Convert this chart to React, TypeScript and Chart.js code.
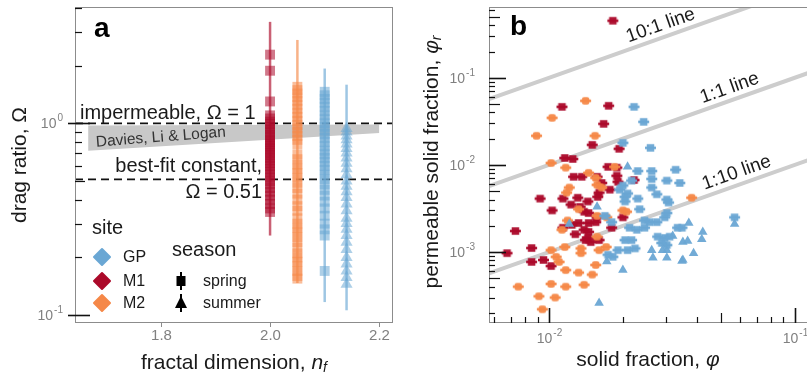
import React, { useEffect, useRef } from 'react';
import { Chart, registerables } from 'chart.js';

Chart.register(...registerables);

// ---------------- Panel a: drag ratio vs fractal dimension ----------------
const sites = ['GP', 'M1', 'M2'];
const seasons = ['spring', 'summer'];
// columns: M1 spring, M2 spring, GP spring, GP summer
const columnNf = [2.0, 2.05, 2.1, 2.14];
const omegaM1Spring = [2.28, 1.88, 1.3, 1.1, 1.06, 1.02, 0.99, 0.96, 0.93, 0.9, 0.87, 0.85, 0.82, 0.8, 0.78, 0.76, 0.74, 0.72, 0.7, 0.68, 0.66, 0.64, 0.62, 0.6, 0.58, 0.56, 0.54, 0.52, 0.5, 0.48, 0.46, 0.44, 0.42, 0.4, 0.38, 0.36, 0.345];
const omegaM2Spring = [1.55, 1.49, 1.43, 1.37, 1.31, 1.25, 1.19, 1.13, 1.08, 1.03, 0.98, 0.94, 0.9, 0.86, 0.82, 0.78, 0.69, 0.65, 0.61, 0.58, 0.55, 0.52, 0.49, 0.46, 0.43, 0.4, 0.37, 0.35, 0.32, 0.3, 0.285, 0.27, 0.255, 0.24, 0.225, 0.21, 0.2, 0.19, 0.18, 0.17, 0.16, 0.155];
const omegaGPSpring = [1.46, 1.4, 1.34, 1.28, 1.22, 1.16, 1.1, 1.05, 1.0, 0.96, 0.92, 0.88, 0.84, 0.8, 0.76, 0.72, 0.69, 0.66, 0.63, 0.6, 0.57, 0.54, 0.51, 0.48, 0.45, 0.42, 0.39, 0.36, 0.33, 0.3, 0.28, 0.26, 0.17];
const omegaGPSummer = [0.94, 0.9, 0.86, 0.82, 0.78, 0.74, 0.7, 0.66, 0.62, 0.58, 0.54, 0.5, 0.47, 0.44, 0.41, 0.38, 0.35, 0.32, 0.3, 0.28, 0.26, 0.24, 0.22, 0.2, 0.185, 0.17, 0.157, 0.145];
const omegaLow = [0.26, 0.147, 0.117, 0.106];
const omegaHigh = [3.38, 2.72, 1.93, 1.59];
const impermeableOmega = 1;
const bestFitOmega = 0.51;
const dllNf = [1.667, 2.2];
const dllUpper = [0.975, 0.985];
const dllLower = [0.72, 0.89];
const nfTicks = [1.8, 2.0, 2.2];
const nfRange = [1.643, 2.225];
const omegaRange = [0.091, 4.04];

// ---------------- Panel b: permeable solid fraction vs solid fraction ----------------
const phiM1 = [0.0182, 0.0113, 0.0175, 0.0167, 0.015, 0.0193, 0.0116, 0.0125, 0.0126, 0.0136, 0.0092, 0.0103, 0.0114, 0.0123, 0.0144, 0.0139, 0.0145, 0.0132, 0.0145, 0.0155, 0.0139, 0.0145, 0.0124, 0.0073, 0.00675, 0.0085, 0.0085, 0.0095, 0.0102, 0.0141, 0.0148, 0.016, 0.016, 0.0164, 0.0174, 0.0189, 0.0189, 0.0191, 0.0222, 0.0157, 0.0177, 0.0158, 0.0131, 0.0134, 0.0157, 0.0114, 0.0128, 0.018, 0.02, 0.0144];
const phiRM1 = [0.452, 0.0464, 0.0477, 0.0296, 0.017, 0.0153, 0.012, 0.0117, 0.0073, 0.0073, 0.0041, 0.003, 0.0041, 0.0035, 0.0038, 0.0029, 0.0028, 0.00215, 0.00215, 0.0022, 0.0018, 0.0017, 0.00205, 0.00174, 0.00097, 0.00111, 0.00077, 0.00081, 0.00069, 0.00137, 0.0013, 0.00137, 0.0048, 0.0062, 0.0095, 0.0093, 0.0075, 0.0064, 0.0067, 0.0073, 0.0052, 0.0043, 0.0042, 0.0033, 0.0025, 0.0019, 0.0016, 0.0019, 0.0025, 0.00145];
const phiM2 = [0.0141, 0.0103, 0.0089, 0.0154, 0.0102, 0.0117, 0.0145, 0.0155, 0.0121, 0.0118, 0.0157, 0.0164, 0.0185, 0.0381, 0.0113, 0.0135, 0.0135, 0.016, 0.0102, 0.0107, 0.011, 0.0117, 0.0132, 0.015, 0.0075, 0.0102, 0.0117, 0.0139, 0.0091, 0.0106, 0.0094, 0.0155, 0.0171, 0.0132, 0.0157, 0.0172, 0.02, 0.0119, 0.0157, 0.0116, 0.0207];
const phiRM2 = [0.0544, 0.0347, 0.0216, 0.0216, 0.0105, 0.0093, 0.0081, 0.0071, 0.0055, 0.0048, 0.0059, 0.0055, 0.0095, 0.0042, 0.0018, 0.0011, 0.00097, 0.00105, 0.00105, 0.00088, 0.00077, 0.00062, 0.00058, 0.00055, 0.0004, 0.00043, 0.0004, 0.00042, 0.00031, 0.0003, 0.00022, 0.00071, 0.00114, 0.0031, 0.0026, 0.0025, 0.003, 0.0023, 0.0015, 0.00114, 0.0029];
const phiGPSpring = [0.0222, 0.0243, 0.02, 0.0259, 0.023, 0.0262, 0.0328, 0.0262, 0.0302, 0.0341, 0.0262, 0.0275, 0.0302, 0.023, 0.057, 0.0194, 0.0204, 0.0307, 0.0204, 0.0245, 0.0257, 0.0275, 0.0296, 0.0302, 0.0334, 0.0348, 0.0213, 0.0228, 0.0245, 0.0204, 0.0217, 0.0277, 0.0296, 0.031, 0.0209, 0.0224, 0.0191, 0.0174, 0.0182, 0.0288, 0.0302, 0.02, 0.0209, 0.0217, 0.0234, 0.0169, 0.018];
const phiRGPSpring = [0.0464, 0.0312, 0.0179, 0.0157, 0.0085, 0.0085, 0.0088, 0.0069, 0.0066, 0.0062, 0.0055, 0.0046, 0.004, 0.0041, 0.0025, 0.0052, 0.0043, 0.0037, 0.0038, 0.0023, 0.0022, 0.0022, 0.0025, 0.0028, 0.0019, 0.0019, 0.0019, 0.0018, 0.0019, 0.00137, 0.00137, 0.0015, 0.00145, 0.0015, 0.00105, 0.0011, 0.00105, 0.00093, 0.00088, 0.00127, 0.0012, 0.0058, 0.0047, 0.0066, 0.0031, 0.0026, 0.0022];
const phiGPSummer = [0.0209, 0.016, 0.0172, 0.02, 0.0423, 0.0419, 0.0388, 0.0351, 0.0262, 0.0302, 0.0319, 0.0371, 0.0351, 0.0367, 0.0265, 0.0302, 0.0348, 0.029, 0.057, 0.0157, 0.0121];
const phiRGPSummer = [0.0095, 0.00026, 0.00078, 0.00062, 0.0017, 0.0014, 0.00097, 0.00081, 0.00105, 0.00105, 0.00153, 0.00215, 0.0013, 0.00134, 0.00086, 0.00086, 0.00079, 0.00105, 0.0021, 0.0033, 0.0021];
const refRatios = [10, 1, 0.1];
const refLabels = ['10:1 line', '1:1 line', '1:10 line'];
const refLabelPhi = [0.0296, 0.0565, 0.0603];
const phiRange = [0.0057, 0.1324];
const phiRRange = [0.000153, 0.65];

// ---------------- styles ----------------
const COL: Record<string, string> = { GP: '106,167,212', M1: '172,10,42', M2: '245,136,72' };
const rgba = (c: string, a: number) => `rgba(${c},${a})`;
const FF = '"Liberation Sans", Arial, Helvetica, sans-serif';
const fnt = (size: number, italic = false, bold = false) =>
  `${italic ? 'italic ' : ''}${bold ? 'bold ' : ''}${size}px ${FF}`;
const TXT = '#1a1a1a';
const TICKTXT = '#808080';

const xy = (xs: number[], ys: number[]) => xs.map((x, i) => ({ x, y: ys[i] }));

function richText(ctx: any, parts: any[], cx: number, cy: number) {
  let total = 0;
  const widths = parts.map((p) => {
    ctx.font = fnt(p.size, !!p.italic);
    const w = ctx.measureText(p.t).width;
    total += w;
    return w;
  });
  let x = cx - total / 2;
  ctx.textAlign = 'left';
  ctx.textBaseline = 'middle';
  parts.forEach((p, i) => {
    ctx.font = fnt(p.size, !!p.italic);
    ctx.fillText(p.t, x, cy + (p.dy || 0));
    x += widths[i];
  });
}

function drawPow(ctx: any, x: number, y: number, exp: string, align: string) {
  ctx.save();
  ctx.fillStyle = TICKTXT;
  ctx.textBaseline = 'middle';
  ctx.textAlign = 'left';
  ctx.font = fnt(14);
  const wb = ctx.measureText('10').width;
  ctx.font = fnt(10);
  const we = ctx.measureText(exp).width;
  const total = wb + we + 1;
  const x0 = align === 'right' ? x - total : x - total / 2;
  ctx.font = fnt(14);
  ctx.fillText('10', x0, y + 1);
  ctx.font = fnt(10);
  ctx.fillText(exp, x0 + wb + 1, y - 5);
  ctx.restore();
}

function logTicks(min: number, max: number) {
  const out: { v: number; m: number; e: number }[] = [];
  for (let e = Math.floor(Math.log10(min)); e <= Math.ceil(Math.log10(max)); e++) {
    for (let m = 1; m <= 9; m++) {
      const v = m * Math.pow(10, e);
      if (v >= min * 0.999 && v <= max * 1.001) out.push({ v, m, e });
    }
  }
  return out;
}

function line(ctx: any, x1: number, y1: number, x2: number, y2: number) {
  ctx.beginPath();
  ctx.moveTo(x1, y1);
  ctx.lineTo(x2, y2);
  ctx.stroke();
}

function makeSquareMarker(color: string, side: number, nub: number, rounded: boolean) {
  const c = document.createElement('canvas');
  c.width = Math.ceil(Math.max(side, nub)) + 2;
  c.height = Math.ceil(side) + 2;
  const g = c.getContext('2d') as CanvasRenderingContext2D;
  const cx = c.width / 2;
  const cy = c.height / 2;
  g.fillStyle = color;
  if (rounded) {
    const r = side * 0.3;
    const x0 = cx - side / 2, y0 = cy - side / 2;
    g.beginPath();
    g.moveTo(x0 + r, y0);
    g.lineTo(x0 + side - r, y0);
    g.quadraticCurveTo(x0 + side, y0, x0 + side, y0 + r);
    g.lineTo(x0 + side, y0 + side - r);
    g.quadraticCurveTo(x0 + side, y0 + side, x0 + side - r, y0 + side);
    g.lineTo(x0 + r, y0 + side);
    g.quadraticCurveTo(x0, y0 + side, x0, y0 + side - r);
    g.lineTo(x0, y0 + r);
    g.quadraticCurveTo(x0, y0, x0 + r, y0);
    g.fill();
  } else {
    g.fillRect(cx - side / 2, cy - side / 2, side, side);
  }
  g.fillRect(cx - nub / 2, cy - 1.3, nub, 2.6);
  return c;
}

// ---------------- plugins ----------------
const panelAPlugin = {
  id: 'panelA',
  afterDatasetsDraw(chart: any) {
    const { ctx, chartArea: ca, scales } = chart;
    const xs = scales.x;
    const ys = scales.y;
    ctx.save();
    // frame
    ctx.strokeStyle = '#8c8c8c';
    ctx.lineWidth = 1;
    ctx.strokeRect(ca.left + 0.5, ca.top + 0.5, ca.right - ca.left - 1, ca.bottom - ca.top - 1);

    // log ticks (inside) on y
    ctx.strokeStyle = '#111';
    logTicks(omegaRange[0], omegaRange[1]).forEach((t) => {
      const y = Math.round(ys.getPixelForValue(t.v)) + 0.5;
      if (t.m === 1) {
        ctx.lineWidth = 1.6;
        line(ctx, ca.left - 7, y, ca.left + 15, y);
        drawPow(ctx, ca.left - 12, y, String(t.e), 'right');
      } else {
        ctx.lineWidth = 1.2;
        line(ctx, ca.left, y, ca.left + (t.m === 5 ? 10 : 7), y);
      }
    });
    // x ticks
    ctx.strokeStyle = '#8c8c8c';
    ctx.lineWidth = 1;
    ctx.fillStyle = TICKTXT;
    ctx.font = fnt(15);
    ctx.textAlign = 'center';
    ctx.textBaseline = 'middle';
    nfTicks.forEach((v) => {
      const x = Math.round(xs.getPixelForValue(v)) + 0.5;
      line(ctx, x, ca.bottom, x, ca.bottom + 4);
      ctx.fillText(v.toFixed(1), x, ca.bottom + 13);
    });

    // titles
    ctx.fillStyle = TXT;
    richText(ctx, [
      { t: 'fractal dimension, ', size: 21 },
      { t: 'n', size: 21, italic: true },
      { t: 'f', size: 14, italic: true, dy: 5 },
    ], (ca.left + ca.right) / 2, 363);
    ctx.save();
    ctx.translate(20, 165);
    ctx.rotate(-Math.PI / 2);
    richText(ctx, [{ t: 'drag ratio, Ω', size: 21 }], 0, 0);
    ctx.restore();

    // annotations
    ctx.fillStyle = TXT;
    ctx.font = fnt(20);
    ctx.textBaseline = 'alphabetic';
    ctx.textAlign = 'left';
    ctx.fillText(`impermeable, Ω = ${impermeableOmega}`, ca.left + 5, ys.getPixelForValue(impermeableOmega) - 4);
    const bfY = ys.getPixelForValue(bestFitOmega);
    const rx = xs.getPixelForValue(columnNf[0]) - 8;
    ctx.textAlign = 'right';
    ctx.fillText('best-fit constant,', rx, bfY - 7);
    ctx.fillText(`Ω = ${bestFitOmega}`, rx, bfY + 19);

    ctx.save();
    ctx.translate(xs.getPixelForValue(1.8), ys.getPixelForValue(0.845));
    ctx.rotate((-4.5 * Math.PI) / 180);
    ctx.fillStyle = '#333';
    ctx.font = fnt(15.5);
    ctx.textAlign = 'center';
    ctx.textBaseline = 'middle';
    ctx.fillText('Davies, Li & Logan', 0, 0);
    ctx.restore();

    // panel letter
    ctx.fillStyle = '#000';
    ctx.font = fnt(28, false, true);
    ctx.textAlign = 'left';
    ctx.textBaseline = 'alphabetic';
    ctx.fillText('a', 94, 37);

    // legend
    ctx.fillStyle = TXT;
    ctx.font = fnt(20);
    ctx.textBaseline = 'middle';
    ctx.fillText('site', 92, 228);
    ctx.fillText('season', 172, 250);
    const rows = [257, 281, 303];
    sites.forEach((s, i) => {
      const y = rows[i];
      ctx.fillStyle = rgba(COL[s], 1);
      ctx.strokeStyle = rgba(COL[s], 1);
      ctx.lineJoin = 'round';
      ctx.lineWidth = 2;
      ctx.beginPath();
      ctx.moveTo(102, y - 8);
      ctx.lineTo(110, y);
      ctx.lineTo(102, y + 8);
      ctx.lineTo(94, y);
      ctx.closePath();
      ctx.fill();
      ctx.stroke();
      ctx.fillStyle = TXT;
      ctx.font = fnt(16);
      ctx.fillText(s, 123, y + 1);
    });
    ctx.fillStyle = '#000';
    ctx.strokeStyle = '#000';
    ctx.lineWidth = 2;
    // spring key
    line(ctx, 181, rows[1] - 9, 181, rows[1] + 9);
    ctx.fillRect(176.5, rows[1] - 5, 9, 10);
    // summer key
    line(ctx, 181, rows[2] - 9, 181, rows[2] + 9);
    ctx.beginPath();
    ctx.moveTo(181, rows[2] - 7);
    ctx.lineTo(187, rows[2] + 5);
    ctx.lineTo(175, rows[2] + 5);
    ctx.closePath();
    ctx.fill();
    ctx.fillStyle = TXT;
    ctx.font = fnt(16);
    ctx.fillText(seasons[0], 203, rows[1] + 1);
    ctx.fillText(seasons[1], 203, rows[2] + 1);
    ctx.restore();
  },
};

const panelBPlugin = {
  id: 'panelB',
  afterDatasetsDraw(chart: any) {
    const { ctx, chartArea: ca, scales } = chart;
    const xs = scales.x;
    const ys = scales.y;
    ctx.save();
    ctx.strokeStyle = '#8c8c8c';
    ctx.lineWidth = 1;
    ctx.strokeRect(ca.left + 0.5, ca.top + 0.5, ca.right - ca.left + 10, ca.bottom - ca.top - 1);

    ctx.strokeStyle = '#111';
    logTicks(phiRRange[0], phiRRange[1]).forEach((t) => {
      const y = Math.round(ys.getPixelForValue(t.v)) + 0.5;
      ctx.lineWidth = t.m === 1 ? 1.6 : 1.2;
      const len = t.m === 1 ? 17 : t.m === 5 ? 11 : 6;
      line(ctx, ca.left, y, ca.left + len, y);
      if (t.m === 1) drawPow(ctx, ca.left - 14, y, String(t.e), 'right');
    });
    logTicks(phiRange[0], phiRange[1]).forEach((t) => {
      const x = Math.round(xs.getPixelForValue(t.v)) + 0.5;
      ctx.lineWidth = t.m === 1 ? 1.6 : 1.2;
      const len = t.m === 1 ? 15 : t.m === 5 ? 10 : 6;
      line(ctx, x, ca.bottom, x, ca.bottom - len);
      if (t.m === 1) drawPow(ctx, x, ca.bottom + 15, String(t.e), 'center');
    });

    // reference line labels
    ctx.fillStyle = TXT;
    ctx.font = fnt(19);
    ctx.textAlign = 'center';
    ctx.textBaseline = 'middle';
    refRatios.forEach((r, i) => {
      const p = refLabelPhi[i];
      const px = xs.getPixelForValue(p);
      const py = ys.getPixelForValue(r * p);
      const ang = Math.atan2(ys.getPixelForValue(r * p * 10) - py, xs.getPixelForValue(p * 10) - px);
      const off = 12;
      ctx.save();
      ctx.translate(px + Math.sin(ang) * off, py - Math.cos(ang) * off);
      ctx.rotate(ang);
      ctx.fillText(refLabels[i], 0, 0);
      ctx.restore();
    });

    // titles
    ctx.fillStyle = TXT;
    richText(ctx, [
      { t: 'solid fraction, ', size: 21 },
      { t: 'φ', size: 21, italic: true },
    ], 248, 360);
    ctx.save();
    ctx.translate(32, 162);
    ctx.rotate(-Math.PI / 2);
    richText(ctx, [
      { t: 'permeable solid fraction, ', size: 21 },
      { t: 'φ', size: 21, italic: true },
      { t: 'r', size: 14, italic: true, dy: 5 },
    ], 0, 0);
    ctx.restore();

    ctx.fillStyle = '#000';
    ctx.font = fnt(28, false, true);
    ctx.textAlign = 'left';
    ctx.textBaseline = 'alphabetic';
    ctx.fillText('b', 110, 35);
    ctx.restore();
  },
};

const hiddenScale = (type: string, min: number, max: number, fit: (s: any) => void) => ({
  type,
  min,
  max,
  bounds: 'data',
  ticks: { display: false },
  grid: { display: false },
  border: { display: false },
  title: { display: false },
  afterFit: fit,
});

function configA(): any {
  const pts = (vals: number[], i: number, site: string, style: string) => ({
    label: `${site} ${style}`,
    data: vals.map((y) => ({ x: columnNf[i], y })),
    showLine: false,
    pointStyle: style === 'summer' ? 'triangle' : 'rect',
    pointRadius: 7,
    pointBackgroundColor: rgba(COL[site], 0.55),
    pointBorderWidth: 0,
    order: 1,
  });
  const colSites = ['M1', 'M2', 'GP', 'GP'];
  return {
    type: 'line',
    data: {
      datasets: [
        pts(omegaM1Spring, 0, 'M1', 'spring'),
        pts(omegaM2Spring, 1, 'M2', 'spring'),
        pts(omegaGPSpring, 2, 'GP', 'spring'),
        pts(omegaGPSummer, 3, 'GP', 'summer'),
        ...columnNf.map((x, i) => ({
          label: 'range',
          data: [{ x, y: omegaLow[i] }, { x, y: omegaHigh[i] }],
          borderColor: rgba(COL[colSites[i]], 0.65),
          borderWidth: 2.5,
          pointRadius: 0,
          order: 4,
        })),
        {
          label: 'impermeable',
          data: [{ x: nfRange[0], y: impermeableOmega }, { x: nfRange[1], y: impermeableOmega }],
          borderColor: '#111',
          borderWidth: 1.8,
          borderDash: [8, 5],
          pointRadius: 0,
          order: 6,
        },
        {
          label: 'best fit',
          data: [{ x: nfRange[0], y: bestFitOmega }, { x: nfRange[1], y: bestFitOmega }],
          borderColor: '#111',
          borderWidth: 1.8,
          borderDash: [8, 5],
          pointRadius: 0,
          order: 6,
        },
        {
          label: 'DLL upper',
          data: xy(dllNf, dllUpper),
          borderWidth: 0,
          borderColor: 'rgba(0,0,0,0)',
          pointRadius: 0,
          fill: false,
          order: 8,
        },
        {
          label: 'DLL lower',
          data: xy(dllNf, dllLower),
          borderWidth: 0,
          borderColor: 'rgba(0,0,0,0)',
          pointRadius: 0,
          fill: '-1',
          backgroundColor: '#c8c8c8',
          order: 9,
        },
      ],
    },
    options: {
      responsive: false,
      animation: false,
      devicePixelRatio: 1,
      events: [],
      layout: { padding: { top: 5, right: 3, left: 0, bottom: 0 } },
      plugins: { legend: { display: false }, tooltip: { enabled: false } },
      scales: {
        x: hiddenScale('linear', nfRange[0], nfRange[1], (s: any) => { s.height = 61; }),
        y: hiddenScale('logarithmic', omegaRange[0], omegaRange[1], (s: any) => { s.width = 75; }),
      },
    },
    plugins: [panelAPlugin],
  };
}

function configB(): any {
  const mSq = (site: string, rounded: boolean) => makeSquareMarker(rgba(COL[site], 0.95), 7.5, 11, rounded);
  return {
    type: 'line',
    data: {
      datasets: [
        {
          label: 'GP summer',
          data: xy(phiGPSummer, phiRGPSummer),
          showLine: false,
          pointStyle: 'triangle',
          pointRadius: 5.5,
          pointBackgroundColor: rgba(COL.GP, 0.95),
          pointBorderWidth: 0,
          order: 1,
        },
        {
          label: 'GP spring',
          data: xy(phiGPSpring, phiRGPSpring),
          showLine: false,
          pointStyle: mSq('GP', false),
          pointRadius: 5,
          pointBorderWidth: 0,
          order: 2,
        },
        {
          label: 'M2 spring',
          data: xy(phiM2, phiRM2),
          showLine: false,
          pointStyle: mSq('M2', true),
          pointRadius: 5,
          pointBorderWidth: 0,
          order: 3,
        },
        {
          label: 'M1 spring',
          data: xy(phiM1, phiRM1),
          showLine: false,
          pointStyle: mSq('M1', false),
          pointRadius: 5,
          pointBorderWidth: 0,
          order: 4,
        },
        ...refRatios.map((r, i) => ({
          label: refLabels[i],
          data: [{ x: phiRange[0], y: r * phiRange[0] }, { x: phiRange[1], y: r * phiRange[1] }],
          borderColor: '#cdcdcd',
          borderWidth: 4,
          pointRadius: 0,
          order: 10,
        })),
      ],
    },
    options: {
      responsive: false,
      animation: false,
      devicePixelRatio: 1,
      events: [],
      layout: { padding: { top: 7, right: 5, left: 0, bottom: 0 } },
      plugins: { legend: { display: false }, tooltip: { enabled: false } },
      scales: {
        x: hiddenScale('logarithmic', phiRange[0], phiRange[1], (s: any) => { s.height = 61; }),
        y: hiddenScale('logarithmic', phiRRange[0], phiRRange[1], (s: any) => { s.width = 89; }),
      },
    },
    plugins: [panelBPlugin],
  };
}

export default function App() {
  const refA = useRef<HTMLCanvasElement>(null);
  const refB = useRef<HTMLCanvasElement>(null);
  useEffect(() => {
    const ca = new Chart(refA.current as HTMLCanvasElement, configA());
    const cb = new Chart(refB.current as HTMLCanvasElement, configB());
    return () => {
      ca.destroy();
      cb.destroy();
    };
  }, []);
  return (
    <div style={{ position: 'fixed', left: 0, top: 0, width: 807, height: 384, overflow: 'hidden', background: '#fff' }}>
      <canvas ref={refA} width={400} height={384} style={{ position: 'absolute', left: 0, top: 0, display: 'block' }} />
      <canvas ref={refB} width={430} height={384} style={{ position: 'absolute', left: 400, top: 0, display: 'block' }} />
    </div>
  );
}
